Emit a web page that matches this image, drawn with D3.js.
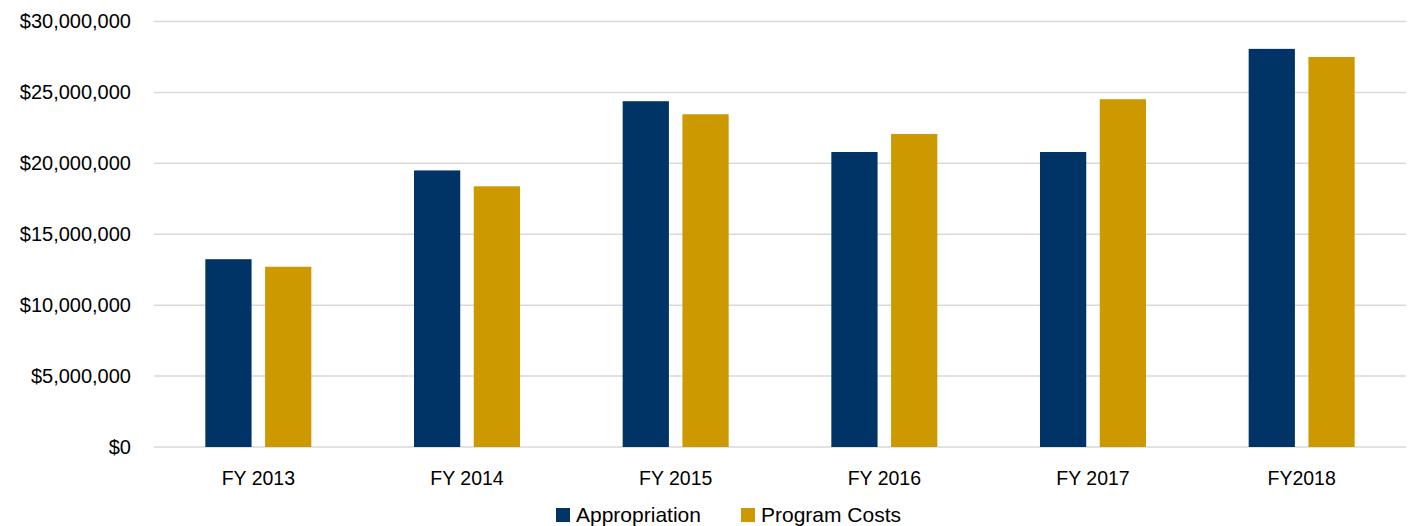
<!DOCTYPE html>
<html>
  <head>
    <meta charset="utf-8"/>
    <title>Appropriation vs Program Costs</title>
    <script src="https://cdn.jsdelivr.net/npm/d3@7"></script>
    <style>
      body { margin: 0; background: #fff; }
      text { font-family: "Liberation Sans", Arial, sans-serif; fill: #000; }
    </style>
  </head>
  <body>
    <svg id="target"></svg>
  </body>
  <script>
    var years = [ "FY 2013", "FY 2014", "FY 2015", "FY 2016", "FY 2017", "FY2018" ];
    var appropriation = [ 13240000, 19500000, 24380000, 20800000, 20800000, 28070000 ];
    var programCosts = [ 12710000, 18380000, 23460000, 22070000, 24520000, 27500000 ];
    var seriesNames = [ "Appropriation", "Program Costs" ];
    var seriesColors = [ "#003366", "#CC9900" ];
    var yTicks = [ 0, 5000000, 10000000, 15000000, 20000000, 25000000, 30000000 ];

    var width = 1410, height = 526;
    var plotLeft = 154, plotRight = 1406, plotTop = 21.5, plotBottom = 447;
    var svg = d3.select( "#target" ).attr( "width", width ).attr( "height", height );

    var xScale = d3.scaleBand().domain( years ).range( [ plotLeft, plotRight ] ).paddingInner( 0 ).paddingOuter( 0 );
    var xInner = d3.scaleBand().domain( seriesNames ).range( [ 0, 106 ] ).paddingInner( 12 / 53 );
    var yScale = d3.scaleLinear().domain( [ 0, 30000000 ] ).range( [ plotBottom, plotTop ] );

    // gridlines
    svg.append( "g" ).selectAll( "line" ).data( yTicks )
      .enter().append( "line" )
        .attr( "x1", plotLeft ).attr( "x2", plotRight )
        .attr( "y1", d => yScale( d ) ).attr( "y2", d => yScale( d ) )
        .attr( "stroke", "#d9d9d9" ).attr( "stroke-width", 1.5 );

    // y axis labels
    var fmt = d3.format( "$,.0f" );
    var axisY = d3.axisLeft( yScale ).tickValues( yTicks ).tickFormat( fmt ).tickSize( 0 ).tickPadding( 23 );
    var gy = svg.append( "g" ).attr( "transform", "translate(" + plotLeft + ",0)" ).call( axisY );
    gy.select( ".domain" ).remove();
    gy.selectAll( "text" ).attr( "font-size", 20 ).attr( "font-family", "Liberation Sans, Arial, sans-serif" ).attr( "fill", "#000" );

    // bars
    var rows = years.map( ( y, i ) => ( { year: y, values: [ appropriation[i], programCosts[i] ] } ) );
    var groups = svg.append( "g" ).selectAll( "g" ).data( rows )
      .enter().append( "g" )
        .attr( "transform", d => "translate(" + ( xScale( d.year ) + xScale.bandwidth() / 2 - 53 ) + ",0)" );
    groups.selectAll( "rect" ).data( d => d.values.map( ( v, j ) => ( { name: seriesNames[j], value: v, color: seriesColors[j] } ) ) )
      .enter().append( "rect" )
        .attr( "x", d => xInner( d.name ) )
        .attr( "width", xInner.bandwidth() )
        .attr( "y", d => yScale( d.value ) )
        .attr( "height", d => plotBottom - yScale( d.value ) )
        .attr( "fill", d => d.color );

    // x axis labels
    var axisX = d3.axisBottom( xScale ).tickSize( 0 ).tickPadding( 24 );
    var gx = svg.append( "g" ).attr( "transform", "translate(0," + plotBottom + ")" ).call( axisX );
    gx.select( ".domain" ).remove();
    gx.selectAll( "text" ).attr( "font-size", 19.5 ).attr( "font-family", "Liberation Sans, Arial, sans-serif" ).attr( "fill", "#000" );

    // legend
    var legendX = [ 556, 741 ];
    var legend = svg.append( "g" ).selectAll( "g" ).data( seriesNames )
      .enter().append( "g" )
        .attr( "transform", ( d, i ) => "translate(" + legendX[i] + ",508)" );
    legend.append( "rect" ).attr( "width", 14 ).attr( "height", 14 ).attr( "fill", ( d, i ) => seriesColors[i] );
    legend.append( "text" ).attr( "x", 20 ).attr( "y", 14 ).attr( "font-size", 21 ).text( d => d );
  </script>
</html>
